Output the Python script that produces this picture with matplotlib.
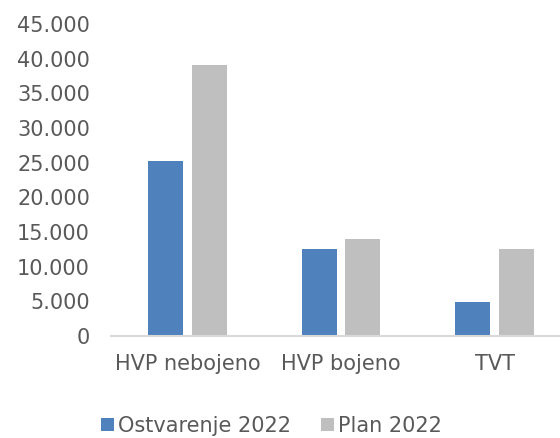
import matplotlib.pyplot as plt
import matplotlib.ticker as mticker
import numpy as np

categories = ["HVP nebojeno", "HVP bojeno", "TVT"]
ostvarenje_2022 = [25200, 12550, 4850]
plan_2022 = [39100, 14000, 12500]
yticks = list(range(0, 45001, 5000))

BLUE = "#4f81bd"
GRAY = "#bfbfbf"
TEXT = "#595959"

plt.rcParams["font.family"] = "DejaVu Sans"

fig = plt.figure(figsize=(5.6, 4.38), dpi=100)
ax = fig.add_axes([0.1978, 0.2329, 0.8223, 0.7123])

x = np.arange(len(categories))
width = 0.228
offset = 0.143
b1 = ax.bar(x - offset, ostvarenje_2022, width, color=BLUE, label="Ostvarenje 2022")
b2 = ax.bar(x + offset, plan_2022, width, color=GRAY, label="Plan 2022")

ax.set_xlim(-0.5, len(categories) - 0.5)
ax.set_ylim(0, 45000)
ax.set_yticks(yticks)
ax.yaxis.set_major_formatter(
    mticker.FuncFormatter(lambda v, p: f"{int(v):,}".replace(",", "."))
)
ax.set_xticks(x)
ax.set_xticklabels(categories)

ax.tick_params(axis="y", length=0, pad=15, labelsize=15, labelcolor=TEXT)
ax.tick_params(axis="x", length=0, pad=13, labelsize=15, labelcolor=TEXT)

for side in ["top", "right", "left"]:
    ax.spines[side].set_visible(False)
ax.spines["bottom"].set_color("#d9d9d9")
ax.spines["bottom"].set_linewidth(1.5)

leg = fig.legend(
    handles=[b1, b2],
    loc="center",
    bbox_to_anchor=(271.5 / 560, 1 - 426 / 438),
    ncol=2,
    frameon=False,
    fontsize=15,
    handlelength=0.63,
    handleheight=0.63,
    handletextpad=0.2,
    columnspacing=1.44,
    borderaxespad=0,
    borderpad=0,
)
for t in leg.get_texts():
    t.set_color(TEXT)

fig.savefig("out.png", dpi=100)
